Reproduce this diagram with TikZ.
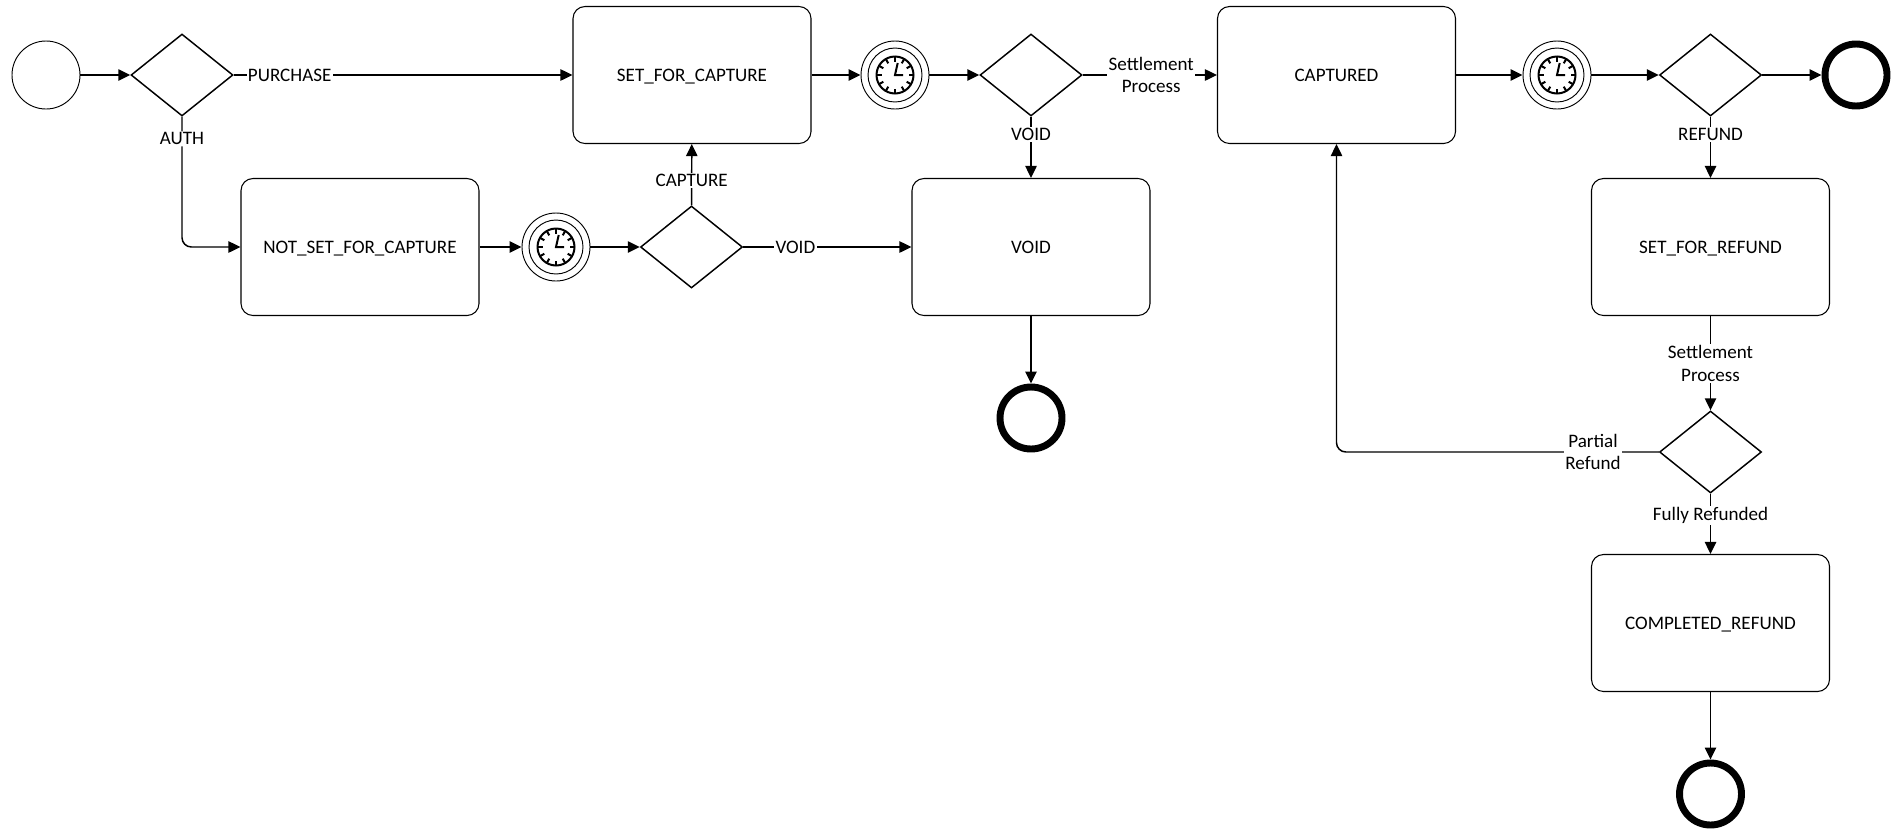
\documentclass[tikz,border=0pt]{standalone}
\usepackage{fontspec}
\setmainfont{Carlito}
\usepackage{tikz}
\usetikzlibrary{arrows.meta, shapes.geometric}
\tikzstyle{canvas} = [x = .75pt, y = -.75pt, font=\fontsize{14.3}{17}\selectfont]
\tikzstyle{stateBox} = [draw, rectangle, rounded corners = 9pt, line width=.8pt, fill=white, minimum width=178.5pt, minimum height=102.75pt, text height=9pt, text depth=0pt]
\tikzstyle{gateway} = [draw, diamond, line width=1.1pt, fill=white, inner sep=0pt, minimum width=76.5pt, minimum height=61.5pt]
\tikzstyle{startEvent} = [draw, circle, line width=.7pt, minimum size=51pt]
\tikzstyle{endEvent} = [draw, circle, line width=5.2pt, minimum size=46.5pt]
\tikzstyle{timerEvent} = [draw, circle, line width=.7pt, minimum size=51pt]
\tikzstyle{timerRing} = [line width=.7pt]
\tikzstyle{clockFace} = [line width=1.5pt]
\tikzstyle{flowLine} = [line width=1.1pt, -{Triangle[length=9pt, width=8.5pt]}]
\tikzstyle{bentLine} = [flowLine, rounded corners = 7pt]
\tikzstyle{flowLabel} = [fill=white, inner sep=1pt, align=center]
\newcommand{\timer}[3]{
  \node [timerEvent] (#1) at (#2, #3) {};
  \draw [timerRing] (#1.center) circle [radius=27];
  \draw [clockFace] (#1.center) circle [radius=18.5];
  \foreach \tickAngle in {0,30,...,330} {
    \draw [clockFace] (#1.center) ++(\tickAngle:18.5) -- ++(\tickAngle+180:5);
  }
  \draw [clockFace] ([shift={(2.7,-12)}]#1.center) -- (#1.center) -- ([shift={(8,0)}]#1.center);
}

\begin{document}
\begin{tikzpicture}[canvas]
      \useasboundingbox (0,0) rectangle (1892,829);

      \node [startEvent] (startCircle) at (46, 75) {};
      \node [gateway] (gateAuth) at (182, 75) {};
      \node [stateBox] (setCapture) at (692, 75) {SET\_FOR\_CAPTURE};
      \node [stateBox] (notSetCapture) at (360, 247) {NOT\_SET\_FOR\_CAPTURE};
      \timer{timerNotSet}{556}{247}
      \node [gateway] (gateCapture) at (691.5, 247) {};
      \timer{timerCapture}{895}{75}
      \node [gateway] (gateSettle) at (1031, 75) {};
      \node [stateBox] (voidBox) at (1031, 247) {VOID};
      \node [endEvent] (endVoid) at (1031, 418) {};
      \node [stateBox] (captured) at (1336.5, 75) {CAPTURED};
      \timer{timerCaptured}{1557}{75}
      \node [gateway] (gateRefund) at (1710.5, 75) {};
      \node [endEvent] (endCaptured) at (1856, 75) {};
      \node [stateBox] (setRefund) at (1710.5, 247) {SET\_FOR\_REFUND};
      \node [gateway] (gatePartial) at (1710.5, 452) {};
      \node [stateBox] (completedRefund) at (1710.5, 623) {COMPLETED\_REFUND};
      \node [endEvent] (endRefund) at (1710.5, 794) {};

      \draw [flowLine] (startCircle) -- (gateAuth);
      \draw [flowLine] (gateAuth) -- node [flowLabel, pos=.165] (labelPurchase) {PURCHASE} (setCapture);
      \draw [bentLine] (gateAuth.south) |- node [flowLabel, pos=.085] (labelAuth) {AUTH} (notSetCapture.west);
      \draw [flowLine] (notSetCapture) -- (timerNotSet);
      \draw [flowLine] (timerNotSet) -- (gateCapture);
      \draw [flowLine] (gateCapture) -- node [flowLabel, pos=.41] (labelCapture) {CAPTURE} (setCapture);
      \draw [flowLine] (gateCapture) -- node [flowLabel, pos=.31] (labelVoidLow) {VOID} (voidBox);
      \draw [flowLine] (setCapture) -- (timerCapture);
      \draw [flowLine] (timerCapture) -- (gateSettle);
      \draw [flowLine] (gateSettle) -- node [flowLabel, pos=.51] (labelSettleTop) {Settlement\\Process} (captured);
      \draw [flowLine] (gateSettle) -- node [flowLabel, pos=.29] (labelVoidTop) {VOID} (voidBox);
      \draw [flowLine] (voidBox) -- (endVoid);
      \draw [flowLine] (captured) -- (timerCaptured);
      \draw [flowLine] (timerCaptured) -- (gateRefund);
      \draw [flowLine] (gateRefund) -- (endCaptured);
      \draw [flowLine] (gateRefund) -- node [flowLabel, pos=.29] (labelRefund) {REFUND} (setRefund);
      \draw [flowLine] (setRefund) -- node [flowLabel, pos=.5] (labelSettleRight) {Settlement\\Process} (gatePartial);
      \draw [bentLine] (gatePartial.west) -| node [flowLabel, pos=.102] (labelPartial) {Partial\\Refund} (captured.south);
      \draw [flowLine] (gatePartial) -- node [flowLabel, pos=.36] (labelFully) {Fully Refunded} (completedRefund);
      \draw [flowLine] (completedRefund) -- (endRefund);
    \end{tikzpicture}
\end{document}
